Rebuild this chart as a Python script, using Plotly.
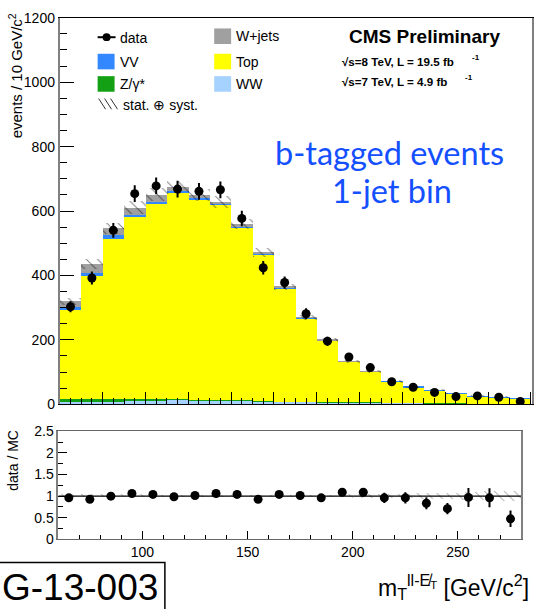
import plotly.graph_objects as go
import numpy as np

# ---------------- data ----------------
bin_centers = [65, 75, 85, 95, 105, 115, 125, 135, 145, 155, 165, 175,
               185, 195, 205, 215, 225, 235, 245, 255, 265, 275]
ww = [10, 10, 11, 13, 13, 15, 13, 13, 12, 10, 9, 8, 7, 6, 6, 5, 5, 4, 4, 3, 3, 3]
zgamma = [6, 6, 6, 4, 4, 1, 1, 1, 1, 1, 0.5, 0.5, 0.5, 0.5, 0.5, 0.5, 0.5,
          0.3, 0.3, 0.3, 0.3, 0.3]
top = [279, 384, 498, 565, 607, 641, 622, 607, 537, 456, 351, 260, 190, 126,
       95, 65, 49, 39, 29, 22, 19, 14]
vv = [8, 8, 10, 8, 6, 6, 6, 4, 4, 2, 3, 2, 2, 1, 1, 1, 1, 1, 1, 1, 1, 1]
wjets = [17, 28, 22, 21, 21, 12, 8, 4, 6, 3, 2, 1, 1, 1, 1, 0, 0, 0, 0, 0, 0, 0]
mc_err = [12, 15, 18, 20, 20, 20, 19, 18, 16, 13, 10, 8, 6, 5, 4, 3.5, 3, 3,
          2.5, 2.5, 2.5, 2]
data = [303, 392, 540, 654, 678, 668, 661, 666, 577, 424, 378, 281, 196, 147,
        114, 70, 53, 37, 24, 26, 22, 9]
data_err = [17, 20, 23, 26, 26, 26, 26, 26, 24, 21, 19, 17, 14, 12, 11, 8, 7,
            6, 5, 5, 5, 3]
ratio = [0.96, 0.925, 1.0, 1.06, 1.04, 0.985, 1.015, 1.06, 1.04, 0.925, 1.04,
         1.015, 0.96, 1.09, 1.09, 0.96, 0.96, 0.835, 0.71, 0.97, 0.96, 0.475]
ratio_err = [0.06, 0.05, 0.04, 0.04, 0.04, 0.04, 0.04, 0.04, 0.04, 0.05, 0.05,
             0.06, 0.07, 0.08, 0.09, 0.12, 0.13, 0.14, 0.13, 0.22, 0.22, 0.19]

# ---------------- style ----------------
W, H = 534, 609
FONT = "Liberation Sans, Arial, sans-serif"
C_WW = "rgb(166,210,255)"
C_Z = "rgb(20,160,20)"
C_TOP = "rgb(255,255,0)"
C_VV = "rgb(51,136,255)"
C_WJ = "rgb(160,160,160)"


def px(x):
    return x / W


def py(y):
    return 1 - y / H


stack = [("WW", ww, C_WW), ("Z/γ*", zgamma, C_Z), ("Top", top, C_TOP),
         ("VV", vv, C_VV), ("W+jets", wjets, C_WJ)]

fig = go.Figure()
base = np.zeros(len(bin_centers))
for name, vals, col in stack:
    v = np.array(vals, dtype=float)
    fig.add_trace(go.Bar(x=bin_centers, y=v, base=base.copy(), width=10,
                         marker=dict(color=col, line=dict(width=0)),
                         name=name, xaxis="x", yaxis="y", hoverinfo="skip"))
    base = base + v
total = base
err = np.array(mc_err, dtype=float)

hatch = dict(shape="\\", fgcolor="black", bgcolor="rgba(0,0,0,0)", size=8,
             solidity=0.12, fillmode="overlay")
fig.add_trace(go.Bar(x=bin_centers, y=2 * err, base=total - err, width=10,
                     marker=dict(color="rgba(0,0,0,0)", line=dict(width=0),
                                 pattern=hatch),
                     xaxis="x", yaxis="y", hoverinfo="skip"))

fig.add_trace(go.Scatter(x=bin_centers, y=data, mode="markers",
                         marker=dict(color="black", size=9),
                         error_y=dict(type="data", array=data_err, color="black",
                                      thickness=2, width=0),
                         xaxis="x", yaxis="y", name="data"))

# ratio panel
rel = err / total
fig.add_trace(go.Bar(x=bin_centers, y=2 * rel, base=1 - rel, width=10,
                     marker=dict(color="rgba(0,0,0,0)", line=dict(width=0),
                                 pattern=dict(shape="\\", fgcolor="black",
                                              bgcolor="rgba(0,0,0,0)", size=7,
                                              solidity=0.12, fillmode="overlay")),
                     xaxis="x2", yaxis="y2", hoverinfo="skip"))
fig.add_trace(go.Scatter(x=bin_centers, y=ratio, mode="markers",
                         marker=dict(color="black", size=9),
                         error_y=dict(type="data", array=ratio_err, color="black",
                                      thickness=2, width=0),
                         xaxis="x2", yaxis="y2"))

shapes = [dict(type="line", xref="x2", yref="y2", x0=60, x1=280, y0=1, y1=1,
               line=dict(color="black", width=1.2), layer="below")]

# ---------------- legend (manual) ----------------
def box(x0, y0, x1, y1, col):
    return dict(type="rect", xref="paper", yref="paper", x0=px(x0), x1=px(x1),
                y0=py(y1), y1=py(y0), fillcolor=col, line=dict(width=0))

shapes += [
    box(98, 47, 115, 63, C_VV),
    box(98, 70, 115, 86, C_Z),
    box(215, 21, 232, 37, C_WJ),
    box(215, 47, 232, 63, C_TOP),
    box(215, 70, 232, 86, C_WW),
    dict(type="line", xref="paper", yref="paper", x0=px(98), x1=px(116),
         y0=py(30), y1=py(30), line=dict(color="black", width=2)),
    dict(type="circle", xref="paper", yref="paper", x0=px(103), x1=px(111),
         y0=py(34), y1=py(26), fillcolor="black", line=dict(width=0)),
]
for k in range(3):
    xs = 99 + k * 6
    shapes.append(dict(type="line", xref="paper", yref="paper", x0=px(xs),
                       x1=px(xs + 7), y0=py(93), y1=py(104),
                       line=dict(color="black", width=0.8)))

# bottom-left box
shapes.append(dict(type="rect", xref="paper", yref="paper", x0=-0.05,
                   x1=px(165.5), y0=-0.05, y1=py(569.5),
                   line=dict(color="black", width=1.5), fillcolor="white"))

ann = []


def text(x, y, s, size, color="black", xanchor="left", bold=False, font=FONT,
         angle=0, yanchor="middle"):
    if bold:
        s = "<b>" + s + "</b>"
    ann.append(dict(x=px(x), y=py(y), xref="paper", yref="paper", text=s,
                    showarrow=False, xanchor=xanchor, yanchor=yanchor,
                    textangle=angle, font=dict(size=size, color=color,
                                               family=font)))


text(118, 31, "data", 14)
text(118, 55, "VV", 14)
text(118, 78, "Z/γ*", 14)
text(121, 100, "stat. ⊕ syst.", 14)
text(235, 29, "W+jets", 14)
text(235, 55, "Top", 14)
text(235, 78, "WW", 14)

text(426, 29, "CMS Preliminary", 19, xanchor="center", bold=True)
text(341, 55, "√s=8 TeV, L = 19.5 fb", 11.6, bold=True)
text(341, 75, "√s=7 TeV, L = 4.9 fb", 11.6, bold=True)
text(472, 51, "-1", 8, bold=True)
text(465, 71, "-1", 8, bold=True)

text(391, 148, "b-tagged events", 32.5, color="#1450ff", xanchor="center",
     font="Lato, sans-serif")
text(393, 187, "1-jet bin", 32.5, color="#1450ff", xanchor="center",
     font="Lato, sans-serif")

text(15, 3, "events / 10 GeV/c<sup>2</sup>", 15, xanchor="center",
     yanchor="top", angle=-90)
text(13, 464, "data / MC", 14, xanchor="center", angle=-90)
text(533, 595, "m<sub>T</sub><sup>ll-E\u0338<sub>T</sub></sup> [GeV/c<sup>2</sup>]",
     23, xanchor="right")
text(0, 595, "G-13-003", 37, xanchor="left")

axis_common = dict(showgrid=False, zeroline=False, ticks="inside",
                   tickcolor="black", tickfont=dict(size=14, family=FONT,
                                                    color="black"),
                   showline=True, mirror=True)

fig.update_layout(
    width=W, height=H, margin=dict(l=0, r=0, t=0, b=0),
    paper_bgcolor="white", plot_bgcolor="white", showlegend=False,
    barmode="overlay", bargap=0,
    xaxis=dict(axis_common, domain=[px(60), 1.0], range=[60, 280.5],
               anchor="y", showticklabels=False, tick0=0, dtick=20,
               ticklen=12, linecolor="black", linewidth=1.2,
               minor=dict(dtick=5, ticks="inside", ticklen=6,
                          tickcolor="black")),
    yaxis=dict(axis_common, domain=[py(407), py(10)], range=[0, 1200],
               anchor="x", dtick=200, ticklen=14, linecolor="#808080",
               linewidth=2,
               minor=dict(dtick=50, ticks="inside", ticklen=7,
                          tickcolor="black")),
    xaxis2=dict(axis_common, domain=[px(58.5), px(523)], range=[60, 280],
                anchor="y2", dtick=50, tick0=0, ticklen=8,
                linecolor="#666666", linewidth=1.2,
                minor=dict(dtick=10, ticks="inside", ticklen=4,
                           tickcolor="black")),
    yaxis2=dict(axis_common, domain=[py(545.7), py(434.7)], range=[0, 2.5],
                anchor="x2", dtick=0.5, ticklen=9, linecolor="#808080",
                linewidth=1.5,
                minor=dict(dtick=0.25, ticks="inside", ticklen=5,
                           tickcolor="black")),
    shapes=shapes, annotations=ann,
)

fig.write_html("out.html")
